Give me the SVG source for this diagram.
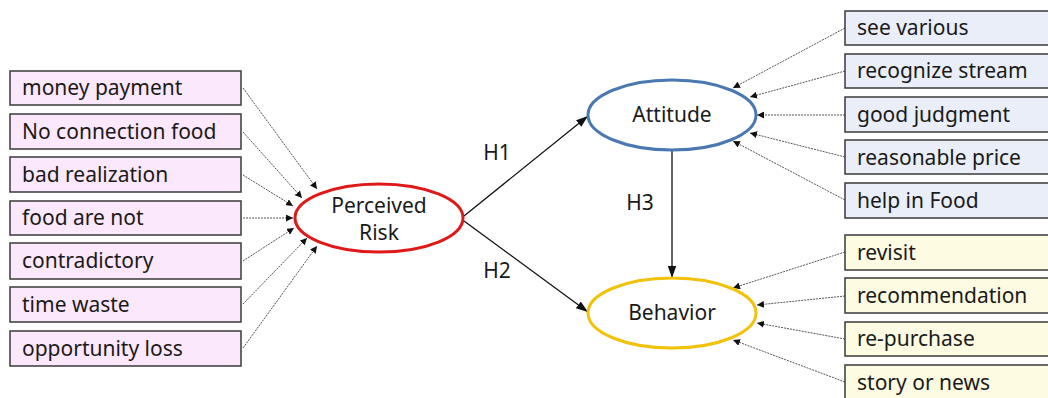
<svg xmlns="http://www.w3.org/2000/svg" width="1048" height="398" viewBox="0 0 1048 398">
<style>
text{font-family:"Noto Sans","Open Sans",sans-serif;font-size:21px;fill:#1a1a1a}
.bl{fill:#fce8fc;stroke:#3a3a3a;stroke-width:1.5}
.bb{fill:#e9eef8;stroke:#3a3a3a;stroke-width:1.5}
.by{fill:#fdfbe2;stroke:#3a3a3a;stroke-width:1.5}
.dot{stroke:#555;stroke-width:1;stroke-dasharray:2 1;fill:none;marker-end:url(#sm)}
.sol{stroke:#111;stroke-width:1.3;fill:none;marker-end:url(#big)}
.c{text-anchor:middle}
</style>
<defs>
<marker id="sm" viewBox="0 0 10 10" refX="10" refY="5" markerWidth="7" markerHeight="7" markerUnits="userSpaceOnUse" orient="auto"><path d="M0,0L10,5L0,10z" fill="#111"/></marker>
<marker id="big" viewBox="0 0 10 10" refX="10" refY="5" markerWidth="12" markerHeight="12" markerUnits="userSpaceOnUse" orient="auto"><path d="M0,1.5L10,5L0,8.5z" fill="#111"/></marker>
</defs>
<rect width="1048" height="398" fill="#fff"/>
<g id="connectors">
<line class="dot" x1="243" y1="88" x2="317" y2="189"/>
<line class="dot" x1="243" y1="132" x2="302" y2="198"/>
<line class="dot" x1="243" y1="175" x2="293" y2="206"/>
<line class="dot" x1="243" y1="218" x2="293" y2="218"/>
<line class="dot" x1="243" y1="261" x2="294" y2="228"/>
<line class="dot" x1="243" y1="304" x2="307" y2="238"/>
<line class="dot" x1="243" y1="348" x2="317" y2="246"/>
<line class="dot" x1="845" y1="28" x2="733" y2="88"/>
<line class="dot" x1="845" y1="71" x2="750" y2="97"/>
<line class="dot" x1="845" y1="115" x2="757" y2="115"/>
<line class="dot" x1="845" y1="157" x2="750" y2="133"/>
<line class="dot" x1="845" y1="200" x2="733" y2="141"/>
<line class="dot" x1="845" y1="252" x2="733" y2="288"/>
<line class="dot" x1="845" y1="296" x2="757" y2="305"/>
<line class="dot" x1="845" y1="339" x2="757" y2="323"/>
<line class="dot" x1="845" y1="382" x2="733" y2="340"/>
<line class="sol" x1="464" y1="216" x2="588" y2="116"/>
<line class="sol" x1="464" y1="221" x2="588" y2="312"/>
<line class="sol" x1="672" y1="150" x2="672" y2="278"/>
</g>
<g id="labels">
<text x="497" y="160" class="c">H1</text>
<text x="497" y="278" class="c">H2</text>
<text x="640" y="210" class="c">H3</text>
</g>
<g id="perceived-risk"><ellipse cx="379" cy="218" rx="84" ry="34" fill="#fff" stroke="#e01818" stroke-width="3"/><text x="379" y="213" class="c">Perceived</text><text x="379" y="240" class="c">Risk</text></g>
<g id="attitude"><ellipse cx="672" cy="115" rx="84" ry="35" fill="#fff" stroke="#4a78b0" stroke-width="3"/><text x="672" y="122" class="c">Attitude</text></g>
<g id="behavior"><ellipse cx="672" cy="313" rx="84" ry="35" fill="#fff" stroke="#f2c10a" stroke-width="3"/><text x="672" y="320" class="c">Behavior</text></g>
<g id="money-payment"><rect class="bl" x="10" y="71" width="231" height="34"/><text x="22" y="95">money payment</text></g>
<g id="no-connection-food"><rect class="bl" x="10" y="114" width="231" height="35"/><text x="22" y="139">No connection food</text></g>
<g id="bad-realization"><rect class="bl" x="10" y="157" width="231" height="35"/><text x="22" y="182">bad realization</text></g>
<g id="food-are-not"><rect class="bl" x="10" y="201" width="231" height="34"/><text x="22" y="225">food are not</text></g>
<g id="contradictory"><rect class="bl" x="10" y="243" width="231" height="36"/><text x="22" y="268">contradictory</text></g>
<g id="time-waste"><rect class="bl" x="10" y="287" width="231" height="35"/><text x="22" y="312">time waste</text></g>
<g id="opportunity-loss"><rect class="bl" x="10" y="331" width="231" height="35"/><text x="22" y="356">opportunity loss</text></g>
<g id="see-various"><rect class="bb" x="845" y="11" width="215" height="34"/><text x="857" y="35">see various</text></g>
<g id="recognize-stream"><rect class="bb" x="845" y="54" width="215" height="34"/><text x="857" y="78">recognize stream</text></g>
<g id="good-judgment"><rect class="bb" x="845" y="97" width="215" height="35"/><text x="857" y="122">good judgment</text></g>
<g id="reasonable-price"><rect class="bb" x="845" y="140" width="215" height="34"/><text x="857" y="165">reasonable price</text></g>
<g id="help-in-food"><rect class="bb" x="845" y="183" width="215" height="35"/><text x="857" y="208">help in Food</text></g>
<g id="revisit"><rect class="by" x="845" y="235" width="215" height="35"/><text x="857" y="260">revisit</text></g>
<g id="recommendation"><rect class="by" x="845" y="278" width="215" height="35"/><text x="857" y="303">recommendation</text></g>
<g id="re-purchase"><rect class="by" x="845" y="322" width="215" height="34"/><text x="857" y="346">re-purchase</text></g>
<g id="story-or-news"><rect class="by" x="845" y="365" width="215" height="40"/><text x="857" y="390">story or news</text></g>
</svg>
